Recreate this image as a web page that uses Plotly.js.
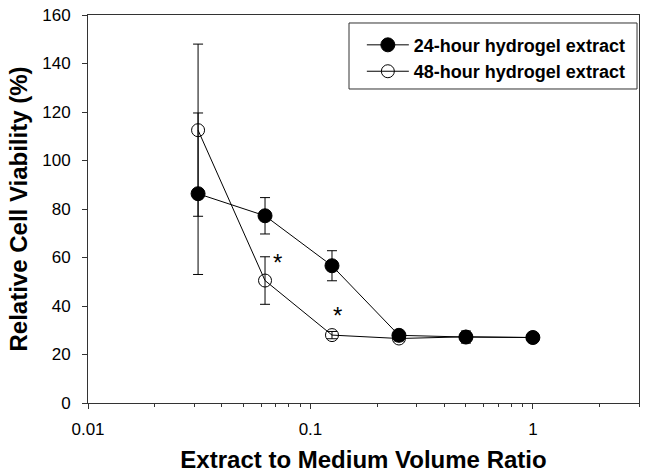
<!DOCTYPE html>
<html>
<head>
<meta charset="utf-8">
<script src="https://cdn.plot.ly/plotly-3.0.1.min.js"></script>
<style>html,body{margin:0;padding:0;background:#fff;}#chart{width:649px;height:475px;}</style>
</head>
<body>
<div id="chart"></div>
<script>
const ratios = [0.03125, 0.0625, 0.125, 0.25, 0.5, 1];
const viability24 = [86.3, 77.2, 56.6, 27.9, 27.2, 27.0];
const error24 = [33.3, 7.5, 6.2, 1.5, 2.5, 1.0];
const viability48 = [112.5, 50.5, 28.0, 26.6, 27.3, 27.0];
const error48 = [35.5, 9.8, 1.5, 1.0, 1.5, 1.0];
const seriesNames = ["24-hour hydrogel extract", "48-hour hydrogel extract"];
const starX = [0.0708, 0.133];
const starY = [58, 36];
const xTickVals = [0.01, 0.1, 1];
const xTickText = ["0.01", "0.1", "1"];
const xMinorVals = [0.02, 0.03, 0.04, 0.05, 0.06, 0.07, 0.08, 0.09,
                    0.2, 0.3, 0.4, 0.5, 0.6, 0.7, 0.8, 0.9, 2, 3];
const yTickVals = [0, 20, 40, 60, 80, 100, 120, 140, 160];

const FONT = "Liberation Sans, Arial, sans-serif";

const traces = [
  {
    x: ratios, y: viability24, name: seriesNames[0], type: "scatter", mode: "lines+markers",
    line: {color: "#000", width: 1},
    marker: {symbol: "circle", size: 14, color: "#000", line: {color: "#000", width: 1}},
    error_y: {type: "data", array: error24, visible: true, color: "#000", thickness: 1, width: 5}
  },
  {
    x: ratios, y: viability48, name: seriesNames[1], type: "scatter", mode: "lines+markers",
    line: {color: "#000", width: 1},
    marker: {symbol: "circle-open", size: 13, color: "#000", line: {color: "#000", width: 1}},
    error_y: {type: "data", array: error48, visible: true, color: "#000", thickness: 1, width: 5}
  }
];

const annotations = starX.map((x, i) => ({
  x: Math.log10(x), y: starY[i], xref: "x", yref: "y", text: "*", showarrow: false,
  font: {family: FONT, size: 24, color: "#000"}
}));

// legend frame (decoration)
const shapes = [{
  type: "rect", xref: "paper", yref: "paper",
  x0: 0.4737, x1: 0.9964, y0: 0.8093, y1: 0.9794,
  line: {color: "#333", width: 1}, fillcolor: "rgba(0,0,0,0)", layer: "above"
}];

const layout = {
  width: 649, height: 475,
  margin: {l: 88, r: 10, t: 15, b: 72},
  paper_bgcolor: "#fff", plot_bgcolor: "#fff",
  font: {family: FONT, color: "#000"},
  showlegend: true,
  legend: {
    x: 0.497, y: 0.97, xanchor: "left", yanchor: "top",
    borderwidth: 0, bgcolor: "rgba(0,0,0,0)",
    font: {family: FONT, size: 18, color: "#000", weight: "bold"},
    itemwidth: 42, tracegroupgap: 0
  },
  xaxis: {
    type: "log", range: [-2, Math.log10(3)],
    tickmode: "array", tickvals: xTickVals, ticktext: xTickText,
    ticks: "outside", ticklen: 5, tickcolor: "#333", tickwidth: 1,
    minor: {tickmode: "array", tickvals: xMinorVals, ticks: "outside", ticklen: 3, tickcolor: "#333", showgrid: false},
    showline: true, linecolor: "#333", linewidth: 1, mirror: true,
    showgrid: false, zeroline: false,
    tickfont: {family: FONT, size: 17, color: "#000"},
    ticklabelstandoff: 6,
    title: {text: "Extract to Medium Volume Ratio", font: {family: FONT, size: 24, color: "#000", weight: "bold"}, standoff: 12}
  },
  yaxis: {
    range: [0, 160], tickvals: yTickVals,
    ticks: "outside", ticklen: 5, tickcolor: "#333", tickwidth: 1,
    showline: true, linecolor: "#333", linewidth: 1, mirror: true,
    showgrid: false, zeroline: false,
    tickfont: {family: FONT, size: 17, color: "#000"},
    ticklabelstandoff: 8,
    title: {text: "Relative Cell Viability (%)", font: {family: FONT, size: 24, color: "#000", weight: "bold"}, standoff: 7}
  },
  shapes: shapes,
  annotations: annotations
};

Plotly.newPlot("chart", traces, layout, {displayModeBar: false, staticPlot: true});
</script>
</body>
</html>
